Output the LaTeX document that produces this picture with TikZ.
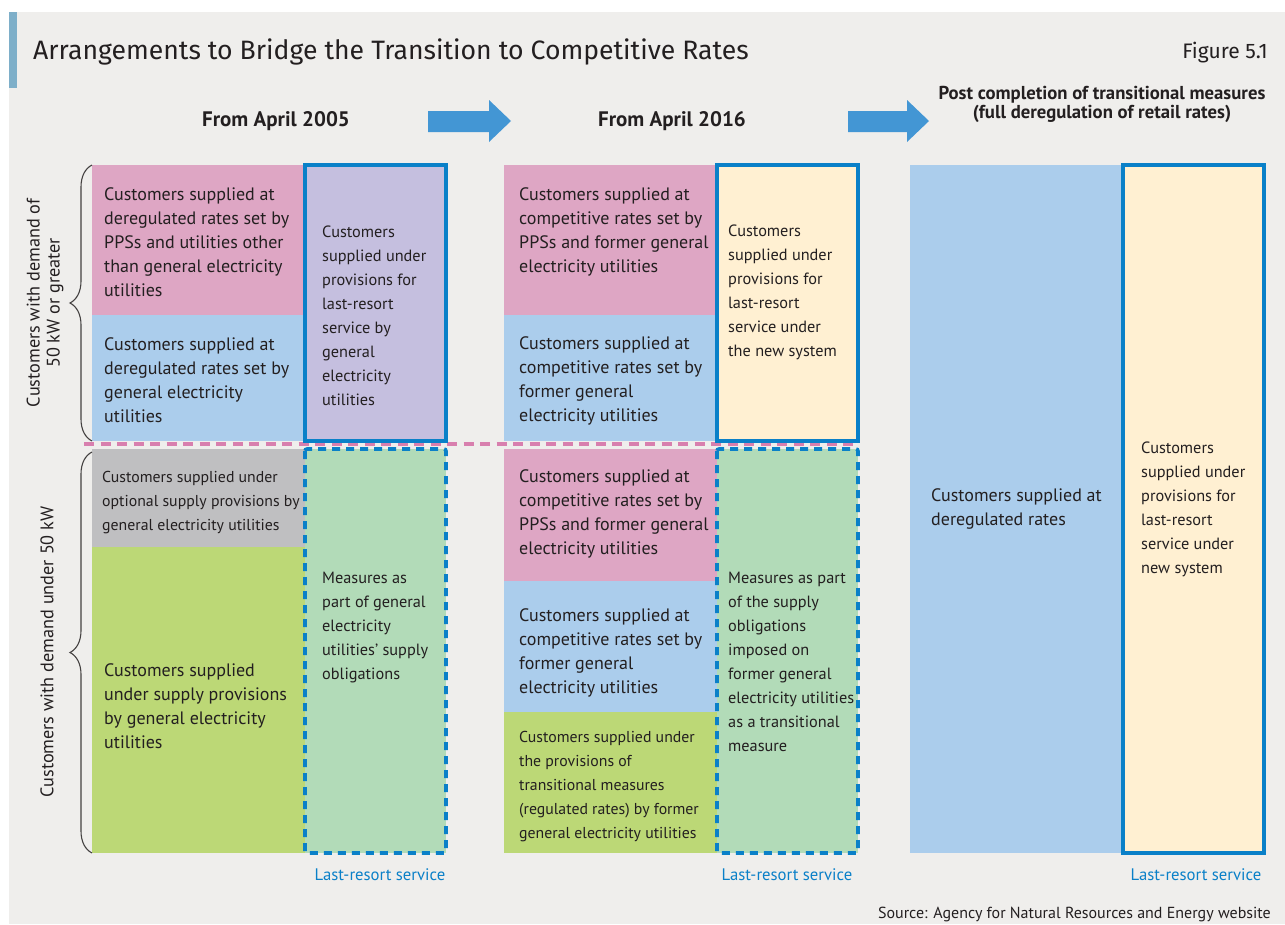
\documentclass[tikz,border=0pt]{standalone}
\usepackage{fontspec}
\setmainfont{PT Sans}
\newfontfamily\titlefont{Fira Sans}
\usetikzlibrary{decorations.pathreplacing}
\definecolor{bg}{HTML}{EFEEEC}
\definecolor{accent}{HTML}{7EAFC9}
\definecolor{cpink}{HTML}{DEA6C4}
\definecolor{cblue}{HTML}{ABCDEC}
\definecolor{cpurple}{HTML}{C5BFDF}
\definecolor{cgray}{HTML}{BFBFC1}
\definecolor{cgreen}{HTML}{BCD876}
\definecolor{clgreen}{HTML}{B2DBB8}
\definecolor{ccream}{HTML}{FFF0D2}
\definecolor{bord}{HTML}{0A80C8}
\definecolor{arr}{HTML}{4396D4}
\definecolor{pdash}{HTML}{D87FAE}
\definecolor{ink}{HTML}{231F20}
\newcommand\mycell[2]{\parbox[t]{#1pt}{\raggedright #2}}
\tikzset{
  cellbox/.style={inner sep=0, outer sep=0, anchor=north west, draw=none},
  txt/.style={inner sep=0, anchor=base west, text=ink, font=\fontsize{18}{24}\selectfont},
  narrowtxt/.style={txt, font=\fontsize{16.3}{24}\selectfont},
  smalltxt/.style={txt, font=\fontsize{15.8}{24}\selectfont},
  solidframe/.style={draw=bord, line width=3.6pt},
  dashframe/.style={draw=bord, line width=3.6pt, dash pattern=on 8pt off 6pt, rounded corners=2pt},
  head/.style={inner sep=0, text=ink, font=\bfseries\fontsize{21}{22}\selectfont},
  lrs/.style={inner sep=0, anchor=base, text=bord, font=\fontsize{16.7}{20}\selectfont},
  sidelabel/.style={inner sep=0, rotate=90, align=center, text=ink, font=\fontsize{18.2}{20}\selectfont},
  bracestyle/.style={draw=ink!85, line width=1.1pt, decorate, decoration={brace, amplitude=22pt, aspect=0.5}},
  bigarrow/.style={fill=arr, draw=none}
}
\begin{document}
\begin{tikzpicture}[x=1pt, y=-1pt]
\useasboundingbox (0,0) rectangle (1285,924);
\fill[white] (0,0) rectangle (1285,924);
\fill[bg] (9,12) rectangle (1285,924);
\fill[accent] (9,12) rectangle (17,88);

% title
\node[inner sep=0, anchor=base west, text=ink, font=\titlefont\fontsize{26.6}{30}\selectfont] (title) at (33,59) {Arrangements to Bridge the Transition to Competitive Rates};
\node[inner sep=0, anchor=base east, text=ink, font=\titlefont\fontsize{21}{24}\selectfont] (fig) at (1268,58) {Figure 5.1};

% headings
\node[head, anchor=base] (h1) at (276,126) {From April 2005};
\node[head, anchor=base] (h2) at (672,126) {From April 2016};
\node[head, anchor=base, align=center, font=\bfseries\fontsize{18.7}{19}\selectfont] (h3) at (1102,118) {Post completion of transitional measures\\(full deregulation of retail rates)};

% arrows
\path[bigarrow] (428,111) -- (489,111) -- (489,100) -- (511,121) -- (489,142) -- (489,132) -- (428,132) -- cycle;
\path[bigarrow] (848,111) -- (907,111) -- (907,100) -- (929,121) -- (907,142) -- (907,132) -- (848,132) -- cycle;

% column 1 fills
\node[cellbox, fill=cpink, minimum width=213pt, minimum height=150pt] (c1a) at (92,165) {};
\node[cellbox, fill=cblue, minimum width=213pt, minimum height=126pt] (c1b) at (92,315) {};
\node[cellbox, fill=cpurple, minimum width=141pt, minimum height=276pt] (c1c) at (305,165) {};
\node[cellbox, fill=cgray, minimum width=213pt, minimum height=98pt] (c1d) at (92,449) {};
\node[cellbox, fill=cgreen, minimum width=213pt, minimum height=306pt] (c1e) at (92,547) {};
\node[cellbox, fill=clgreen, minimum width=141pt, minimum height=404pt] (c1f) at (305,449) {};

% column 2 fills
\node[cellbox, fill=cpink, minimum width=213pt, minimum height=150pt] (c2a) at (504,165) {};
\node[cellbox, fill=cblue, minimum width=213pt, minimum height=126pt] (c2b) at (504,315) {};
\node[cellbox, fill=ccream, minimum width=141pt, minimum height=276pt] (c2c) at (717,165) {};
\node[cellbox, fill=cpink, minimum width=213pt, minimum height=132pt] (c2d) at (504,449) {};
\node[cellbox, fill=cblue, minimum width=213pt, minimum height=131pt] (c2e) at (504,581) {};
\node[cellbox, fill=cgreen, minimum width=213pt, minimum height=141pt] (c2f) at (504,712) {};
\node[cellbox, fill=clgreen, minimum width=141pt, minimum height=404pt] (c2g) at (717,449) {};

% column 3 fills
\node[cellbox, fill=cblue, minimum width=213pt, minimum height=688pt] (c3a) at (910,165) {};
\node[cellbox, fill=ccream, minimum width=141pt, minimum height=688pt] (c3b) at (1123,165) {};

% pink dashed divider
\coordinate (dl) at (84,444);
\coordinate (dr) at (858,444);
\draw[pdash, line width=3.6pt, dash pattern=on 10pt off 6.5pt] (dl) -- (dr);

% frames
\draw[solidframe] (c1c.north west) rectangle (c1c.south east);
\draw[solidframe] (c2c.north west) rectangle (c2c.south east);
\draw[solidframe] (c3b.north west) rectangle (c3b.south east);
\draw[dashframe] (c1f.north west) rectangle (c1f.south east);
\draw[dashframe] (c2g.north west) rectangle (c2g.south east);

% column 1 texts
\node[txt] (t1a) at (104,200) {\mycell{280}{Customers supplied at\\deregulated rates set by\\PPSs and utilities other\\than general electricity\\utilities}};
\node[txt] (t1b) at (104,350) {\mycell{280}{Customers supplied at\\deregulated rates set by\\general electricity\\utilities}};
\node[narrowtxt] (t1c) at (322,237) {\mycell{180}{Customers\\supplied under\\provisions for\\last-resort\\service by\\general\\electricity\\utilities}};
\node[smalltxt] (t1d) at (102,482) {\mycell{280}{Customers supplied under\\optional supply provisions by\\general electricity utilities}};
\node[txt] (t1e) at (104,676) {\mycell{280}{Customers supplied\\under supply provisions\\by general electricity\\utilities}};
\node[narrowtxt] (t1f) at (322,583) {\mycell{180}{Measures as\\part of general\\electricity\\utilities’ supply\\obligations}};

% column 2 texts
\node[txt] (t2a) at (519,200) {\mycell{280}{Customers supplied at\\competitive rates set by\\PPSs and former general\\electricity utilities}};
\node[txt] (t2b) at (519,349) {\mycell{280}{Customers supplied at\\competitive rates set by\\former general\\electricity utilities}};
\node[narrowtxt] (t2c) at (728,236) {\mycell{180}{Customers\\supplied under\\provisions for\\last-resort\\service under\\the new system}};
\node[txt] (t2d) at (519,482) {\mycell{280}{Customers supplied at\\competitive rates set by\\PPSs and former general\\electricity utilities}};
\node[txt] (t2e) at (519,621) {\mycell{280}{Customers supplied at\\competitive rates set by\\former general\\electricity utilities}};
\node[smalltxt] (t2f) at (519,742) {\mycell{280}{Customers supplied under\\the provisions of\\transitional measures\\(regulated rates) by former\\general electricity utilities}};
\node[narrowtxt] (t2g) at (728,583) {\mycell{180}{Measures as part\\of the supply\\obligations\\imposed on\\former general\\electricity utilities\\as a transitional\\measure}};

% column 3 texts
\node[txt] (t3a) at (931,501) {\mycell{250}{Customers supplied at\\deregulated rates}};
\node[narrowtxt] (t3b) at (1141,453) {\mycell{180}{Customers\\supplied under\\provisions for\\last-resort\\service under\\new system}};

% last-resort labels
\node[lrs] (l1) at (380,880) {Last-resort service};
\node[lrs] (l2) at (787,880) {Last-resort service};
\node[lrs] (l3) at (1196,880) {Last-resort service};

% braces and side labels
\coordinate (b1s) at (92,441);
\coordinate (b1e) at (92,165);
\coordinate (b2s) at (92,853);
\coordinate (b2e) at (92,452);
\draw[bracestyle] (b1s) -- (b1e);
\draw[bracestyle] (b2s) -- (b2e);
\node[sidelabel] (s1) at (45,303) {Customers with demand of\\50 kW or greater};
\node[sidelabel] (s2) at (47,652) {Customers with demand under 50 kW};

% source
\node[inner sep=0, anchor=base east, text=ink, font=\fontsize{16}{18}\selectfont] (src) at (1271,918) {Source: Agency for Natural Resources and Energy website};
\end{tikzpicture}
\end{document}
